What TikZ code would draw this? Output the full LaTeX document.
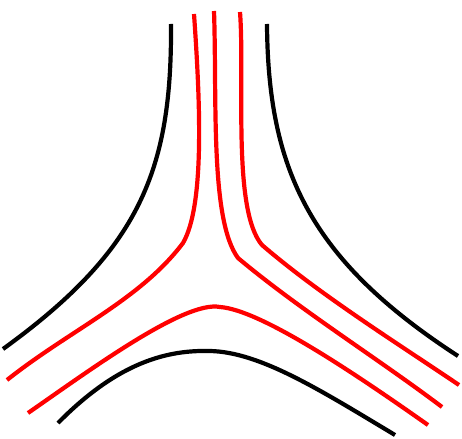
\documentclass[tikz,border=0pt]{standalone}
\begin{document}
\begin{tikzpicture}[x=1pt,y=-1pt,
  blk/.style={line width=4.2pt,black},
  rd/.style={line width=4.2pt,red}]
\useasboundingbox (0,0) rectangle (462,438);
% black curves
\draw[blk] (171,24) .. controls (172,170) and (140,250) .. (3,349);
\draw[blk] (267,24) .. controls (268,170) and (310,260) .. (458,356);
\draw[blk] (58,423) .. controls (120,360) and (170,350) .. (210,351) .. controls (260,352) and (320,390) .. (395,435);
% red curves
\draw[rd] (194,14) .. controls (200,100) and (205,205) .. (183,243) .. controls (140,300) and (70,330) .. (7,380);
\draw[rd] (214,11) .. controls (217,100) and (210,220) .. (238,258) .. controls (300,310) and (380,360) .. (442,407);
\draw[rd] (240,12) .. controls (245,80) and (232,210) .. (262,245) .. controls (320,295) and (400,345) .. (459,385);
\draw[rd] (28,413) .. controls (90,370) and (185,300) .. (220,307) .. controls (260,310) and (350,370) .. (428,425);
\end{tikzpicture}
\end{document}
